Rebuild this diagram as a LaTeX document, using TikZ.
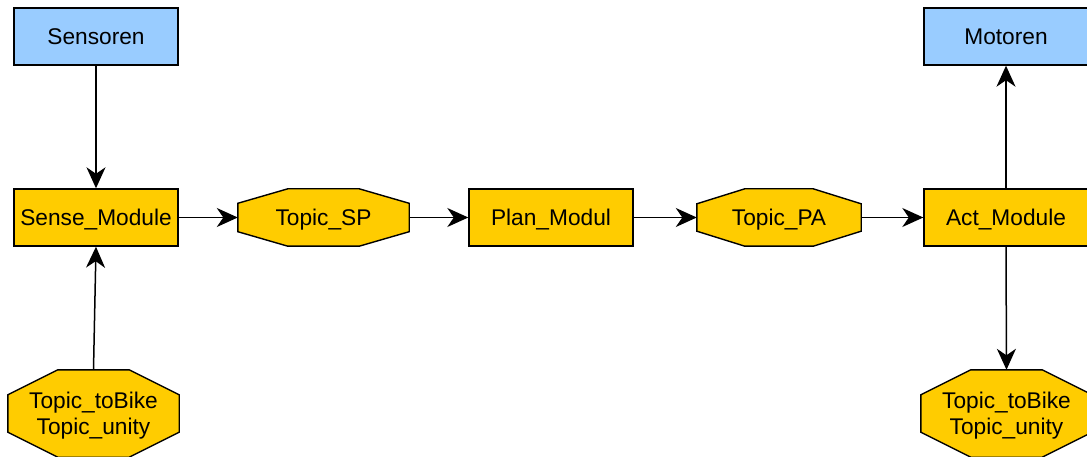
\documentclass[tikz,border=0pt]{standalone}
\usepackage{fontspec}
\setmainfont{Liberation Sans}
\usetikzlibrary{arrows.meta,backgrounds}

\definecolor{hwblue}{HTML}{99CCFF}
\definecolor{modyellow}{HTML}{FFCC00}

\tikzset{
  x=1pt, y=1pt,
  txt/.style={inner sep=0pt, font=\fontsize{22.7}{26}\selectfont, align=center,
    text height=16.3pt, text depth=0pt},
  twolines/.style={txt, text height=42.3pt},
  hwbox/.style={txt, draw=black, line width=1.4pt, fill=hwblue,
    minimum width=164pt, minimum height=57pt},
  modbox/.style={txt, draw=black, line width=1.4pt, fill=modyellow,
    minimum width=164pt, minimum height=57pt},
  octfill/.style={draw=black, line width=1.4pt, fill=modyellow, line join=miter},
  conn/.style={draw=black, line width=1.5pt,
    -{Stealth[length=21pt, width=19pt, inset=6.5pt]}},
}

% octagon around a named node: #1 node, #2 horizontal chamfer, #3 vertical chamfer
\newcommand\drawoctagon[3]{%
  \path[octfill]
    ([xshift=#2]#1.north west) -- ([xshift=-#2]#1.north east)
    -- ([yshift=-#3]#1.north east) -- ([yshift=#3]#1.south east)
    -- ([xshift=-#2]#1.south east) -- ([xshift=#2]#1.south west)
    -- ([yshift=#3]#1.south west) -- ([yshift=-#3]#1.north west) -- cycle;
}

\begin{document}
\begin{tikzpicture}
  \useasboundingbox (0,0) rectangle (1087,-457);
  \clip (0,0) rectangle (1087,-457);

  % hardware
  \node[hwbox] (sens) at (96,-36.5) {Sensoren};
  \node[hwbox] (mot) at (1006,-36.5) {Motoren};

  % modules
  \node[modbox] (sense) at (96,-217.5) {Sense\_Module};
  \node[modbox] (plan) at (551,-217.5) {Plan\_Modul};
  \node[modbox] (act) at (1006,-217.5) {Act\_Module};

  % topics
  \node[txt, minimum width=171pt, minimum height=57pt] (tsp) at (323.5,-217.5) {Topic\_SP};
  \node[txt, minimum width=164pt, minimum height=57pt] (tpa) at (779,-217.5) {Topic\_PA};
  \node[twolines, minimum width=171pt, minimum height=87pt] (tin) at (93.5,-413.5) {Topic\_toBike\\Topic\_unity};
  \node[twolines, minimum width=171pt, minimum height=87pt] (tout) at (1006.5,-413.5) {Topic\_toBike\\Topic\_unity};

  \begin{pgfonlayer}{background}
    \drawoctagon{tsp}{50pt}{14.5pt}
    \drawoctagon{tpa}{48pt}{15pt}
    \drawoctagon{tin}{50pt}{25pt}
    \drawoctagon{tout}{50pt}{25pt}
  \end{pgfonlayer}

  % data flow
  \draw[conn] (sens.south) -- (sense.north);
  \draw[conn] (tin.north) -- (sense.south);
  \draw[conn] (sense.east) -- (tsp.west);
  \draw[conn] (tsp.east) -- (plan.west);
  \draw[conn] (plan.east) -- (tpa.west);
  \draw[conn] (tpa.east) -- (act.west);
  \draw[conn] (act.north) -- (mot.south);
  \draw[conn] (act.south) -- (tout.north);
\end{tikzpicture}
\end{document}
